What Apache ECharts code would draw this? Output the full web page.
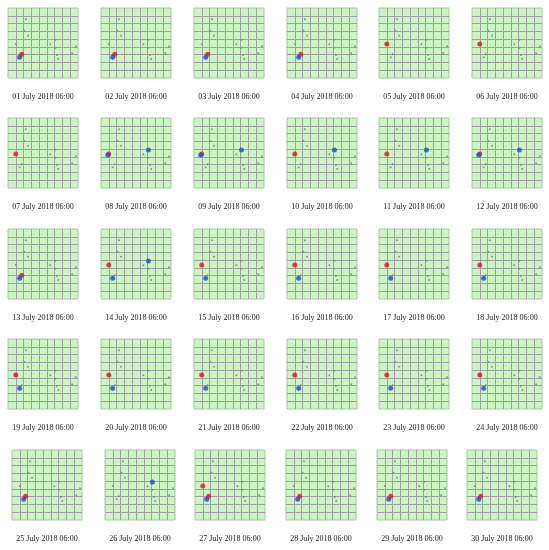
<!DOCTYPE html>
<html>
<head>
<meta charset="utf-8">
<script src="https://cdn.jsdelivr.net/npm/echarts@6/dist/echarts.min.js"></script>
<style>
  html, body { margin: 0; padding: 0; background: #fff; }
  #chart { width: 549px; height: 550px; }
</style>
</head>
<body>
<div id="chart"></div>
<script>
// one caption per panel
const days = [
  '01 July 2018 06:00', '02 July 2018 06:00', '03 July 2018 06:00', '04 July 2018 06:00', '05 July 2018 06:00', '06 July 2018 06:00',
  '07 July 2018 06:00', '08 July 2018 06:00', '09 July 2018 06:00', '10 July 2018 06:00', '11 July 2018 06:00', '12 July 2018 06:00',
  '13 July 2018 06:00', '14 July 2018 06:00', '15 July 2018 06:00', '16 July 2018 06:00', '17 July 2018 06:00', '18 July 2018 06:00',
  '19 July 2018 06:00', '20 July 2018 06:00', '21 July 2018 06:00', '22 July 2018 06:00', '23 July 2018 06:00', '24 July 2018 06:00',
  '25 July 2018 06:00', '26 July 2018 06:00', '27 July 2018 06:00', '28 July 2018 06:00', '29 July 2018 06:00', '30 July 2018 06:00'
];

// grid cells 0..9, y counted from the top
const gridTicks = [0, 1, 2, 3, 4, 5, 6, 7, 8, 9];

// gray station dots (same in every panel)
const stationX = [2.31, 2.1, 2.57, 1.0, 1.76, 1.5, 5.44, 6.08, 6.08, 6.3, 6.45, 8.25, 8.74];
const stationY = [1.45, 2.92, 3.56, 4.63, 5.95, 6.34, 4.67, 4.08, 5.1, 6.04, 6.56, 5.82, 4.92];

// red marks per day
const redMarks = [
  [[1.76, 5.95]], [[1.76, 5.95]], [[1.76, 5.95]], [[1.76, 5.95]], [[1.0, 4.63]], [[1.0, 4.63]],
  [[1.0, 4.63]], [[1.0, 4.63]], [[1.0, 4.63]], [[1.0, 4.63]], [[1.0, 4.63]], [[1.0, 4.63]],
  [[1.76, 5.95]], [[1.0, 4.63]], [[1.0, 4.63]], [[1.0, 4.63]], [[1.0, 4.63]], [[1.0, 4.63]],
  [[1.0, 4.63]], [[1.0, 4.63]], [[1.0, 4.63]], [[1.0, 4.63]], [[1.0, 4.63]], [[1.0, 4.63]],
  [[1.76, 5.95]], [], [[1.0, 4.63], [1.76, 5.95]], [[1.76, 5.95]], [[1.76, 5.95]], [[1.76, 5.95]]
];

// blue marks per day
const blueMarks = [
  [[1.5, 6.34]], [[1.5, 6.34]], [[1.5, 6.34]], [[1.5, 6.34]], [], [],
  [], [[0.86, 4.76], [6.1, 4.1]], [[0.86, 4.76], [6.1, 4.1]], [[6.1, 4.1]], [[6.1, 4.1]], [[0.86, 4.76], [6.1, 4.1]],
  [[1.5, 6.34]], [[1.5, 6.34], [6.1, 4.1]], [[1.5, 6.34]], [[1.5, 6.34]], [[1.5, 6.34]], [[1.5, 6.34]],
  [[1.5, 6.34]], [[1.5, 6.34]], [[1.5, 6.34]], [[1.5, 6.34]], [[1.5, 6.34]], [[1.5, 6.34]],
  [[1.5, 6.34]], [[6.1, 4.1]], [[1.5, 6.34]], [[1.5, 6.34]], [[1.5, 6.34]], [[1.5, 6.34]]
];

// panel placement (px)
const rowTops = [8, 118, 229, 339, 450];
const colLefts = [
  [8, 101, 194, 287, 379, 472],
  [8, 101, 194, 287, 379, 472],
  [8, 101, 194, 287, 379, 472],
  [8, 101, 194, 287, 379, 472],
  [12, 105, 195, 286, 377, 467]
];
const panelSize = 70;

const myChart = echarts.init(document.getElementById('chart'));

const grid = [], xAxis = [], yAxis = [], series = [], graphic = [];
const stations = stationX.map((x, i) => [x, stationY[i]]);

days.forEach((day, i) => {
  const row = Math.floor(i / 6), col = i % 6;
  const left = colLefts[row][col], top = rowTops[row];
  grid.push({
    left: left, top: top, width: panelSize, height: panelSize,
    show: true, backgroundColor: '#cdf5c3', borderColor: '#aac6a4', borderWidth: 1
  });
  const axisBase = {
    gridIndex: i, type: 'value', min: gridTicks[0], max: gridTicks[gridTicks.length - 1], interval: 1,
    axisLine: { show: false }, axisTick: { show: false }, axisLabel: { show: false },
    splitLine: { show: true, showMinLine: false, showMaxLine: false, lineStyle: { color: '#9fa0a4', width: 1 } }
  };
  xAxis.push(Object.assign({}, axisBase));
  yAxis.push(Object.assign({ inverse: true }, axisBase));
  series.push({
    type: 'scatter', xAxisIndex: i, yAxisIndex: i, data: stations,
    symbolSize: 2, itemStyle: { color: '#7d7d85' }, silent: true
  });
  series.push({
    type: 'scatter', xAxisIndex: i, yAxisIndex: i, data: redMarks[i],
    symbolSize: 5, itemStyle: { color: '#e8141c' }, silent: true
  });
  series.push({
    type: 'scatter', xAxisIndex: i, yAxisIndex: i, data: blueMarks[i],
    symbolSize: 5, itemStyle: { color: '#1a4fd6' }, silent: true
  });
  graphic.push({
    type: 'text', x: left + panelSize / 2, y: top + panelSize + 19,
    style: {
      text: day, fill: '#222', font: '8px "Liberation Serif", serif',
      textAlign: 'center', textVerticalAlign: 'middle'
    }
  });
});

myChart.setOption({
  animation: false,
  grid: grid,
  xAxis: xAxis,
  yAxis: yAxis,
  series: series,
  graphic: graphic
});
</script>
</body>
</html>
